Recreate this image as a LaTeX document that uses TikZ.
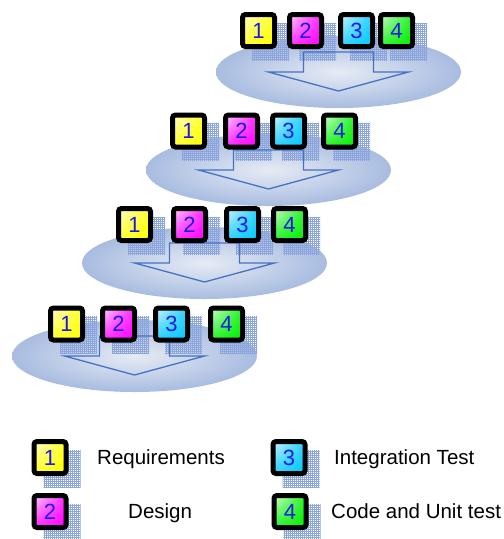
\documentclass[tikz,border=0pt]{standalone}
\usepackage{fontspec}
\setmainfont{Liberation Sans}
\usetikzlibrary{patterns.meta,shadings}
\definecolor{ellin}{RGB}{230,235,244}
\definecolor{ellout}{RGB}{168,188,224}
\definecolor{arrowc}{RGB}{70,114,196}
\definecolor{meshc}{RGB}{140,165,220}
\definecolor{digitc}{RGB}{25,25,235}
\definecolor{cyanb}{RGB}{0,200,255}
\definecolor{greenb}{RGB}{0,240,0}
\pgfdeclareradialshading{ellglow}{\pgfpoint{0bp}{0bp}}{color(0bp)=(ellin); color(25bp)=(ellout); color(50bp)=(ellout)}
\begin{document}
\begin{tikzpicture}[x=1pt,y=-1pt,
  stage/.style={shading=ellglow},
  flow/.style={draw=arrowc,line width=1.3pt,line join=miter},
  mesh/.style={pattern={Hatch[distance=2pt,line width=0.35pt]},pattern color=meshc},
  phase/.style={draw=black,line width=5pt,rounded corners=3pt,minimum size=32pt,inner sep=0pt,font=\fontsize{22}{22}\selectfont,text=digitc},
  req/.style={phase,upper left=yellow!20!white,upper right=yellow!85!white,lower left=yellow!85!white,lower right=yellow},
  des/.style={phase,upper left=magenta!20!white,upper right=magenta!85!white,lower left=magenta!85!white,lower right=magenta},
  integ/.style={phase,upper left=cyanb!20!white,upper right=cyanb!85!white,lower left=cyanb!85!white,lower right=cyanb},
  code/.style={phase,upper left=greenb!20!white,upper right=greenb!85!white,lower left=greenb!85!white,lower right=greenb},
  legendtext/.style={font=\fontsize{20.5}{24}\selectfont,inner sep=0pt,anchor=base west}]
\useasboundingbox (0,0) rectangle (504,539);
% first pass
\shade[stage] (338.5,72) ellipse [x radius=122.5pt,y radius=36pt];
\fill[mesh] (252,23) rectangle (289,60); \fill[mesh] (299,23) rectangle (336,60); \fill[mesh] (350,23) rectangle (387,60); \fill[mesh] (390,23) rectangle (427,60);
\draw[flow] (303.5,52)--(303.5,72)--(268.5,72)--(338.5,91)--(408.5,72)--(373.5,72)--(373.5,52)--cycle;
\node[req] (r1) at (258.5,30.5) {1}; \node[des] (d1) at (305.5,30.5) {2}; \node[integ] (i1) at (356.5,30.5) {3}; \node[code] (c1) at (396.5,30.5) {4};
% second pass
\shade[stage] (268.5,170) ellipse [x radius=122.5pt,y radius=36pt];
\fill[mesh] (182,123.5) rectangle (219,160.5); \fill[mesh] (235,123.5) rectangle (272,160.5); \fill[mesh] (282,123.5) rectangle (319,160.5); \fill[mesh] (333,123.5) rectangle (370,160.5);
\draw[flow] (233.5,150)--(233.5,170)--(198.5,170)--(268.5,189)--(338.5,170)--(303.5,170)--(303.5,150)--cycle;
\node[req] (r2) at (188.5,131) {1}; \node[des] (d2) at (241.5,131) {2}; \node[integ] (i2) at (288.5,131) {3}; \node[code] (c2) at (339.5,131) {4};
% third pass
\shade[stage] (204.5,263) ellipse [x radius=122.5pt,y radius=36pt];
\fill[mesh] (128,217) rectangle (165,254); \fill[mesh] (183,217) rectangle (220,254); \fill[mesh] (236,217) rectangle (273,254); \fill[mesh] (283,217) rectangle (320,254);
\draw[flow] (169.5,243)--(169.5,263)--(134.5,263)--(204.5,282)--(274.5,263)--(239.5,263)--(239.5,243)--cycle;
\node[req] (r3) at (134.5,224.5) {1}; \node[des] (d3) at (189.5,224.5) {2}; \node[integ] (i3) at (242.5,224.5) {3}; \node[code] (c3) at (289.5,224.5) {4};
% fourth pass
\shade[stage] (134.5,356) ellipse [x radius=122.5pt,y radius=36pt];
\fill[mesh] (60,316.5) rectangle (97,353.5); \fill[mesh] (112,316.5) rectangle (149,353.5); \fill[mesh] (165,316.5) rectangle (202,353.5); \fill[mesh] (220,316.5) rectangle (257,353.5);
\draw[flow] (99.5,336)--(99.5,356)--(64.5,356)--(134.5,375)--(204.5,356)--(169.5,356)--(169.5,336)--cycle;
\node[req] (r4) at (66.5,324) {1}; \node[des] (d4) at (118.5,324) {2}; \node[integ] (i4) at (171.5,324) {3}; \node[code] (c4) at (226.5,324) {4};
% legend
\fill[mesh] (43.5,450) rectangle (80.5,487); \fill[mesh] (43.5,504) rectangle (80.5,541); \fill[mesh] (282.5,450) rectangle (319.5,487); \fill[mesh] (283.5,504) rectangle (320.5,541);
\node[req] (lr) at (50,457.5) {1}; \node[legendtext] (tr) at (97,464) {Requirements};
\node[des] (ld) at (50,511.5) {2}; \node[legendtext] (td) at (128,518) {Design};
\node[integ] (li) at (289,457.5) {3}; \node[legendtext] (ti) at (334,464) {Integration Test};
\node[code] (lc) at (290,511.5) {4}; \node[legendtext] (tc) at (331,518) {Code and Unit test};
\end{tikzpicture}
\end{document}
